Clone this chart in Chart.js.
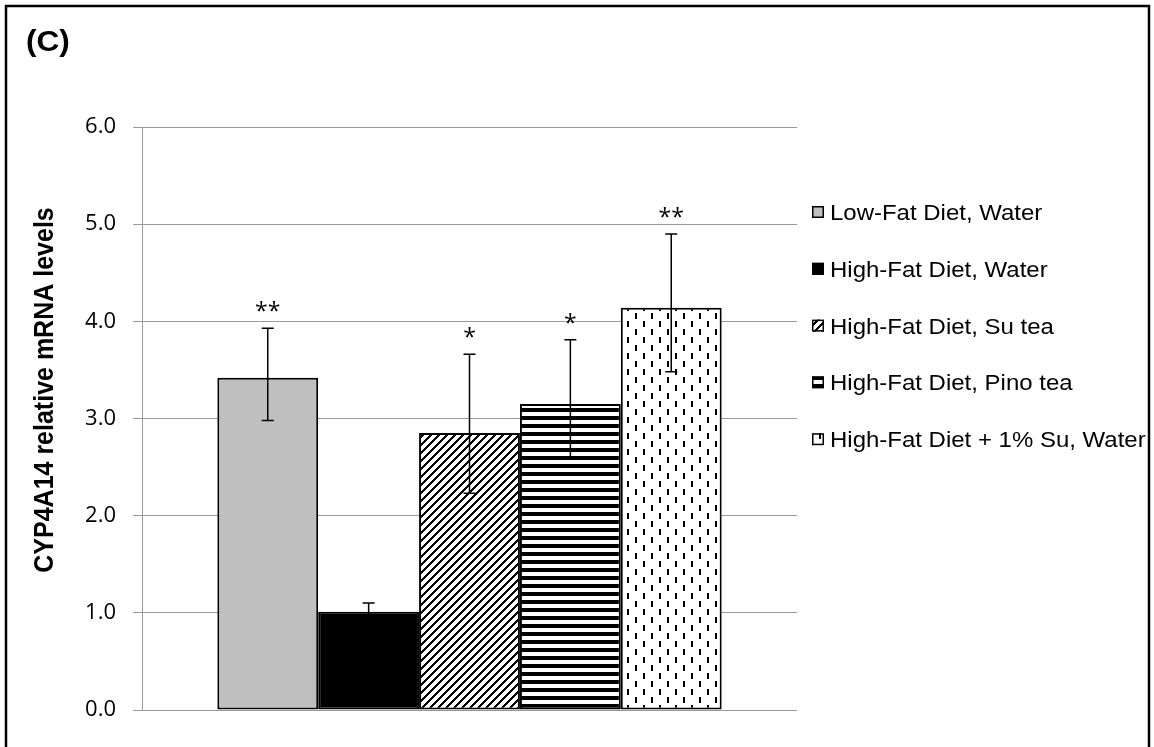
<!DOCTYPE html>
<html><head><meta charset="utf-8">
<script src="https://cdn.jsdelivr.net/npm/chart.js@4/dist/chart.umd.min.js"></script>
<style>html,body{margin:0;padding:0;background:#fff;}#wrap{width:1154px;height:747px;position:relative;}</style>
</head><body><div id="wrap"><canvas id="c"></canvas></div>
<script>
// ---- data ----
const categories = [''];
const seriesNames = ['Low-Fat Diet, Water', 'High-Fat Diet, Water', 'High-Fat Diet, Su tea', 'High-Fat Diet, Pino tea', 'High-Fat Diet + 1% Su, Water'];
const seriesValues = [3.42, 1.01, 2.85, 3.15, 4.14];
const errorUp = [0.51, 0.09, 0.81, 0.66, 0.76];
const errorDown = [0.44, 0.09, 0.62, 0.55, 0.66];
const significance = ['**', '', '*', '*', '**'];
const yTicks = [0, 1, 2, 3, 4, 5, 6];
const panelLabel = '(C)';
const yAxisTitle = 'CYP4A14 relative mRNA levels';

// ---- patterns ----
function makeTile(w, h, fn) {
  const c = document.createElement('canvas'); c.width = w; c.height = h;
  const x = c.getContext('2d'); const img = x.createImageData(w, h);
  for (let j = 0; j < h; j++) for (let i = 0; i < w; i++) {
    const k = (j * w + i) * 4; const v = fn(i, j) ? 0 : 255;
    img.data[k] = v; img.data[k + 1] = v; img.data[k + 2] = v; img.data[k + 3] = 255;
  }
  x.putImageData(img, 0, 0);
  return x.createPattern(c, 'repeat');
}
const diagPat = makeTile(8, 8, (i, j) => ((i + j) % 8) < 3);
const hPat = makeTile(8, 8, (i, j) => (j % 8) < 4);
const dashPat = makeTile(16, 16, (i, j) => ((i === 3 || i === 4) && j >= 1 && j <= 6) || ((i === 11 || i === 12) && j >= 9 && j <= 14));
const fills = ['#bfbfbf', '#000000', diagPat, hPat, dashPat];

const SX = 1.09; // horizontal stretch seen in the reference lettering

const decor = {
  id: 'decor',
  beforeDraw(chart) {
    const ctx = chart.ctx; ctx.save(); ctx.fillStyle = '#fff'; ctx.fillRect(0, 0, chart.width, chart.height); ctx.restore();
  },
  afterDatasetsDraw(chart) {
    const ctx = chart.ctx, yS = chart.scales.y;
    ctx.save();
    chart.data.datasets.forEach((ds, i) => {
      const el = chart.getDatasetMeta(i).data[0];
      const v = ds.data[0];
      const x = el.x;
      const yT = yS.getPixelForValue(v + errorUp[i]);
      const yB = yS.getPixelForValue(v - errorDown[i]);
      ctx.strokeStyle = '#000'; ctx.lineWidth = 1.5;
      ctx.beginPath();
      ctx.moveTo(x, yT); ctx.lineTo(x, yB);
      ctx.moveTo(x - 6, yT); ctx.lineTo(x + 6, yT);
      ctx.moveTo(x - 6, yB); ctx.lineTo(x + 6, yB);
      ctx.stroke();
      if (significance[i]) {
        ctx.fillStyle = '#000'; ctx.font = '23px "Open Sans"';
        ctx.textAlign = 'center'; ctx.textBaseline = 'alphabetic';
        ctx.fillText(significance[i], x, yT - 9);
      }
    });
    ctx.restore();
  },
  afterDraw(chart) {
    const ctx = chart.ctx;
    ctx.save();
    // frame
    ctx.strokeStyle = '#000'; ctx.lineWidth = 2.5;
    ctx.strokeRect(6, 6, 1143, 800);
    // panel label
    ctx.fillStyle = '#000'; ctx.font = 'bold 29px "Liberation Sans"';
    ctx.textAlign = 'left'; ctx.textBaseline = 'alphabetic';
    ctx.save(); ctx.translate(26, 51); ctx.scale(SX, 1); ctx.fillText(panelLabel, 0, 0); ctx.restore();
    // y axis title
    ctx.save();
    ctx.font = 'bold 25px "Liberation Sans"'; ctx.textAlign = 'center'; ctx.textBaseline = 'alphabetic';
    ctx.translate(53, 390); ctx.scale(SX, 1); ctx.rotate(-Math.PI / 2);
    ctx.fillText(yAxisTitle, 0, 0);
    ctx.restore();
    // legend
    const lx = 812, ty = 212, dy = 56.8, bs = 12;
    chart.data.datasets.forEach((ds, i) => {
      const cy = ty + i * dy;
      ctx.fillStyle = ds.backgroundColor;
      ctx.fillRect(lx, cy - bs / 2, bs, bs);
      ctx.strokeStyle = '#000'; ctx.lineWidth = 1.5;
      ctx.strokeRect(lx + 0.75, cy - bs / 2 + 0.75, bs - 1.5, bs - 1.5);
      ctx.fillStyle = '#000'; ctx.font = '22px "Liberation Sans"';
      ctx.save(); ctx.translate(830, cy + 8); ctx.scale(SX, 1); ctx.fillText(ds.label, 0, 0); ctx.restore();
    });
    ctx.restore();
  }
};

new Chart(document.getElementById('c'), {
  type: 'bar',
  data: {
    labels: categories,
    datasets: seriesNames.map((n, i) => ({
      label: n, data: [seriesValues[i]], backgroundColor: fills[i],
      borderColor: '#000', borderWidth: 2, borderSkipped: false,
      categoryPercentage: 0.77, barPercentage: 1.0
    }))
  },
  options: {
    responsive: true, maintainAspectRatio: false, animation: false,
    layout: { padding: { left: 0, top: 127, right: 357, bottom: 37 } },
    plugins: { legend: { display: false }, tooltip: { enabled: false }, title: { display: false } },
    scales: {
      x: { display: false },
      y: {
        min: 0, max: 6,
        afterFit(s) { s.width = 142; },
        afterBuildTicks(s) { s.ticks = yTicks.map(v => ({ value: v })); },
        ticks: { padding: 17, color: '#000', font: { family: 'Open Sans', size: 22 }, callback: v => Number(v).toFixed(1) },
        grid: { color: '#9a9a9a', tickLength: 9, lineWidth: 1 },
        border: { color: '#9a9a9a', width: 1 },
        title: { display: false, text: yAxisTitle }
      }
    }
  },
  plugins: [decor]
});
</script></body></html>
